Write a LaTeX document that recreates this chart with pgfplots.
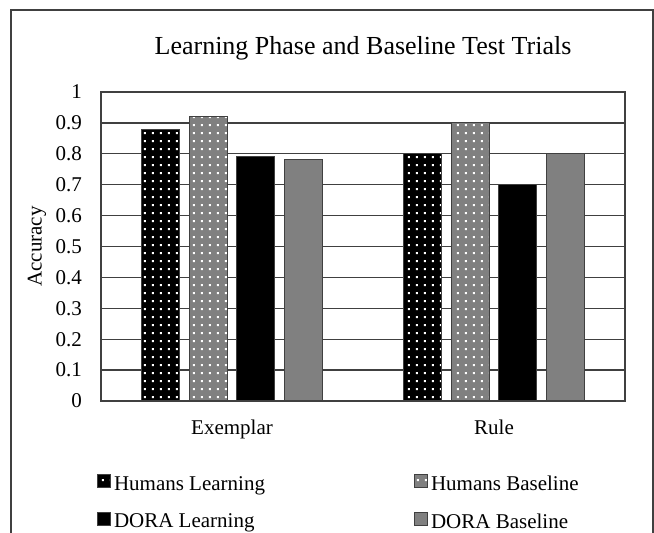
\documentclass[border=0pt]{standalone}
\usepackage{fontspec}
\setmainfont{Liberation Serif}
\usepackage{pgfplots}
\pgfplotsset{compat=1.18}
\usetikzlibrary{patterns.meta}
\tikzdeclarepattern{
  name=wdots,
  type=uncolored,
  bounding box={(0,0) and (8.3bp,8.3bp)},
  tile size={(8.3bp,8.3bp)},
  code={
    \pgfpathrectangle{\pgfpoint{3bp}{3bp}}{\pgfpoint{2.2bp}{2.2bp}}
    \pgfusepath{fill}
  }
}
\definecolor{edge}{HTML}{404040}
\definecolor{midgray}{HTML}{808080}
\begin{document}
\begin{tikzpicture}[x=1bp,y=1bp]
\useasboundingbox (0,0) rectangle (654,533);
\draw[edge, line width=1.3bp] (11,0) -- (11,523) -- (653,523) -- (653,0);
\begin{axis}[
  at={(101bp,132bp)}, anchor=south west,
  scale only axis, width=524bp, height=309bp,
  xmin=-0.5, xmax=1.5, ymin=0, ymax=1,
  xtick={0,1}, xticklabels={Exemplar,Rule},
  ytick={0,0.1,0.2,0.3,0.4,0.5,0.6,0.7,0.8,0.9,1},
  yticklabels={0,0.1,0.2,0.3,0.4,0.5,0.6,0.7,0.8,0.9,1},
  ymajorgrids, grid style={edge, line width=1.3bp},
  axis line style={edge, line width=1.3bp},
  major tick length=0pt,
  tick label style={font=\fontsize{21bp}{25bp}\selectfont, inner sep=0pt},
  yticklabel shift=19bp,
  xticklabel shift=19bp,
  ybar=9.5bp, bar width=38bp,
  title={Learning Phase and Baseline Test Trials},
  title style={font=\fontsize{26bp}{30bp}\selectfont, at={(axis description cs:0.5,1)}, anchor=center, yshift=38bp},
  ylabel={Accuracy},
  ylabel style={font=\fontsize{21bp}{25bp}\selectfont, at={(axis description cs:-0.122,0.5)}, anchor=center},
  legend columns=2,
  legend cell align=left,
  legend image code/.code={\draw[#1, draw=edge, line width=1bp] (0bp,-4bp) rectangle (13bp,9bp);},
  legend style={draw=none, fill=none, inner sep=0pt, outer sep=0pt,
    at={(axis description cs:0,0)}, anchor=north west, xshift=-4bp, yshift=-73.5bp,
    font=\fontsize{21bp}{25bp}\selectfont,
    nodes={inner sep=0pt, outer sep=0pt},
    row sep=20bp,
    /tikz/column 1/.style={column sep=3bp},
    /tikz/column 2/.style={column sep=149bp},
    /tikz/column 3/.style={column sep=3bp}},
]
\addplot[fill=black, draw=edge, line width=1bp, postaction={pattern={wdots}, pattern color=white}] coordinates {(0,0.88) (1,0.80)};
\addplot[fill=midgray, draw=edge, line width=1bp, postaction={pattern={wdots}, pattern color=white}] coordinates {(0,0.92) (1,0.90)};
\addplot[fill=black, draw=edge, line width=1bp] coordinates {(0,0.79) (1,0.70)};
\addplot[fill=midgray, draw=edge, line width=1bp] coordinates {(0,0.78) (1,0.80)};
\legend{Humans Learning, Humans Baseline, DORA Learning, DORA Baseline}
\end{axis}
\end{tikzpicture}
\end{document}
